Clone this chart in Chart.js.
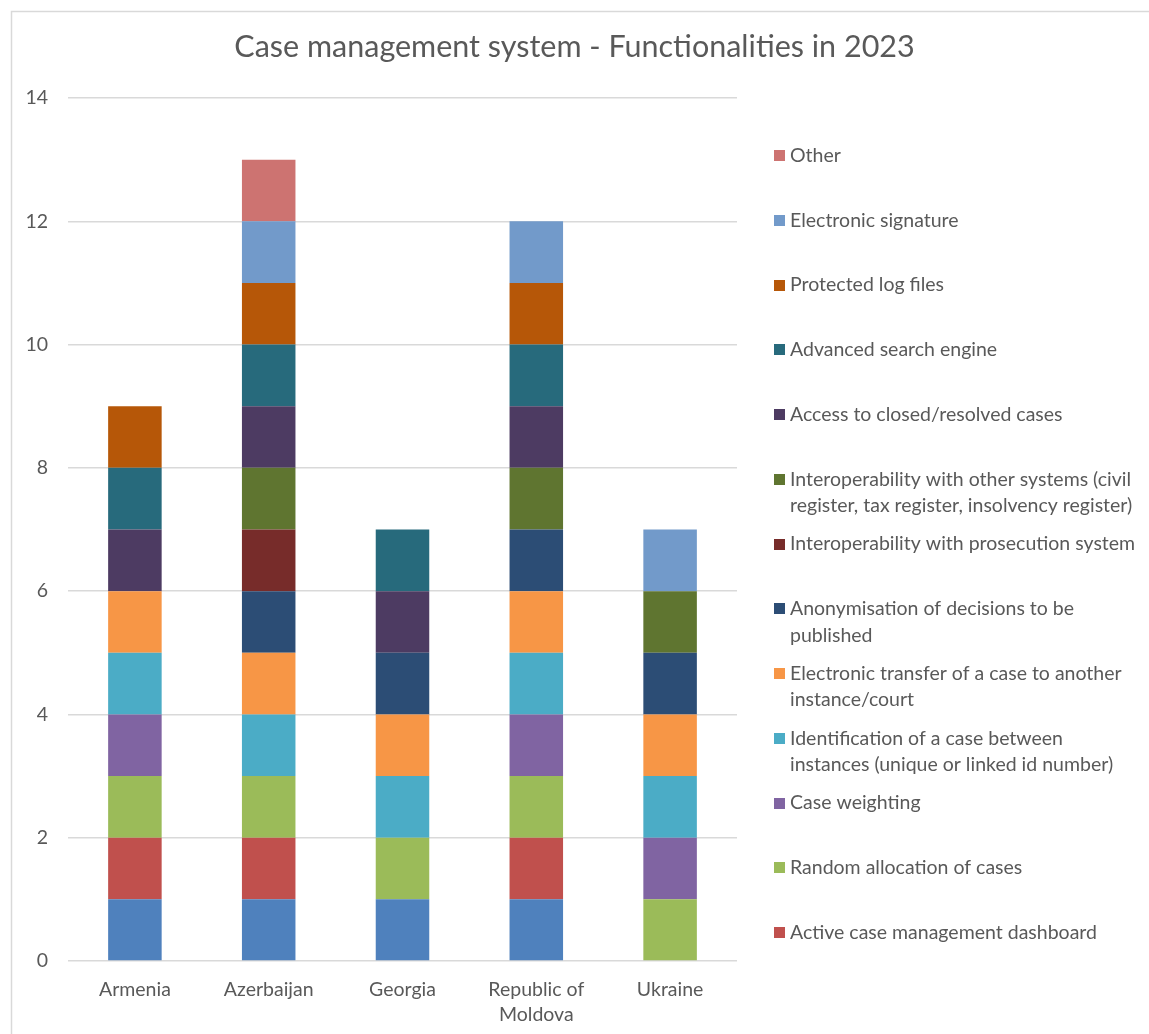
<!DOCTYPE html>
<html><head><meta charset="utf-8">
<script src="https://cdn.jsdelivr.net/npm/chart.js@4.4.1/dist/chart.umd.min.js"></script>
<style>
  html,body{margin:0;padding:0;background:#fff}
  #wrap{position:relative;width:1149px;height:1034px}
</style>
</head><body>
<div id="wrap"><canvas id="chart" width="1149" height="1034"></canvas></div>
<script>
// Countries on the category axis
const countries = ['Armenia', 'Azerbaijan', 'Georgia', ['Republic of', 'Moldova'], 'Ukraine'];

// Functionalities, stacked from the bottom up (legend line breaks kept as arrays)
const functionalities = [
  ['Case registration'],
  ['Active case management dashboard'],
  ['Random allocation of cases'],
  ['Case weighting'],
  ['Identification of a case between', 'instances (unique or linked id number)'],
  ['Electronic transfer of a case to another', 'instance/court'],
  ['Anonymisation of decisions to be', 'published'],
  ['Interoperability with prosecution system'],
  ['Interoperability with other systems (civil', 'register, tax register, insolvency register)'],
  ['Access to closed/resolved cases'],
  ['Advanced search engine'],
  ['Protected log files'],
  ['Electronic signature'],
  ['Other']
];

// 1 = functionality available in the country (Armenia, Azerbaijan, Georgia, Moldova, Ukraine)
const caseRegistration     = [1, 1, 1, 1, 0];
const activeDashboard      = [1, 1, 0, 1, 0];
const randomAllocation     = [1, 1, 1, 1, 1];
const caseWeighting        = [1, 0, 0, 1, 1];
const caseIdentification   = [1, 1, 1, 1, 1];
const electronicTransfer   = [1, 1, 1, 1, 1];
const anonymisation        = [0, 1, 1, 1, 1];
const prosecutionInterop   = [0, 1, 0, 0, 0];
const otherSystemsInterop  = [0, 1, 0, 1, 1];
const closedCasesAccess    = [1, 1, 1, 1, 0];
const advancedSearch       = [1, 1, 1, 1, 0];
const protectedLogs        = [1, 1, 0, 1, 0];
const electronicSignature  = [0, 1, 0, 1, 1];
const otherFunctionality   = [0, 1, 0, 0, 0];

const seriesValues = [
  caseRegistration, activeDashboard, randomAllocation, caseWeighting,
  caseIdentification, electronicTransfer, anonymisation, prosecutionInterop,
  otherSystemsInterop, closedCasesAccess, advancedSearch, protectedLogs,
  electronicSignature, otherFunctionality
];

const seriesColors = [
  '#4F81BD', '#C0504D', '#9BBB59', '#8064A2', '#4BACC6', '#F79646', '#2C4D75',
  '#772C2A', '#5F7530', '#4D3B62', '#276A7C', '#B65708', '#729ACA', '#CD7371'
];

const yTicks = { min: 0, max: 14, step: 2 };

const FONT = 'Lato';
const TEXT = '#595959';
const GRID = '#d9d9d9';

// Outer frame and white background
const framePlugin = {
  id: 'frame',
  beforeDraw(chart) {
    const ctx = chart.ctx;
    ctx.save();
    ctx.fillStyle = '#fff';
    ctx.fillRect(0, 0, chart.width, chart.height);
    ctx.strokeStyle = GRID;
    ctx.lineWidth = 1.5;
    ctx.beginPath();
    ctx.moveTo(11.5, chart.height);
    ctx.lineTo(11.5, 11.5);
    ctx.lineTo(chart.width, 11.5);
    ctx.stroke();
    ctx.restore();
  }
};

// Legend on the right: top entry first, evenly spaced rows, wrapped labels
const sideLegend = {
  id: 'sideLegend',
  afterDraw(chart, args, opts) {
    const ctx = chart.ctx;
    ctx.save();
    ctx.font = opts.fontSize + 'px ' + opts.fontFamily;
    ctx.textBaseline = 'middle';
    ctx.textAlign = 'left';
    const sets = chart.data.datasets;
    let row = 0;
    for (let i = sets.length - 1; i >= opts.firstShown; i--, row++) {
      const ds = sets[i];
      const y = opts.top + row * opts.rowStep;
      ctx.fillStyle = ds.backgroundColor;
      ctx.fillRect(opts.boxX, Math.round(y - opts.box / 2), opts.box, opts.box);
      ctx.fillStyle = opts.color;
      ds.legendLines.forEach((line, j) => {
        ctx.fillText(line, opts.textX, y + j * opts.lineStep);
      });
    }
    ctx.restore();
  }
};

const datasets = seriesValues.map((vals, i) => ({
  label: functionalities[i].join(' '),
  legendLines: functionalities[i],
  data: vals,
  backgroundColor: seriesColors[i],
  borderWidth: 0,
  categoryPercentage: 1,
  barPercentage: 0.4
}));

new Chart(document.getElementById('chart'), {
  type: 'bar',
  data: { labels: countries, datasets },
  plugins: [framePlugin, sideLegend],
  options: {
    responsive: false,
    animation: false,
    layout: { padding: 0 },
    plugins: {
      legend: { display: false },
      title: {
        display: true,
        text: 'Case management system - Functionalities in 2023',
        color: TEXT,
        font: { family: FONT, size: 30.5, weight: 'normal', lineHeight: 1.2 },
        padding: { top: 28.7, bottom: 32.7 }
      },
      sideLegend: {
        firstShown: 1,
        top: 155.5,
        rowStep: 64.75,
        lineStep: 26.5,
        box: 11,
        boxX: 774,
        textX: 790,
        fontSize: 19.5,
        fontFamily: FONT,
        color: TEXT
      },
      tooltip: { enabled: true }
    },
    scales: {
      x: {
        stacked: true,
        grid: { display: false, drawTicks: false },
        border: { display: false },
        ticks: {
          color: TEXT,
          padding: 16,
          font: { family: FONT, size: 19.5, lineHeight: 1.3 },
          maxRotation: 0,
          autoSkip: false
        },
        afterFit(scale) { scale.height = 73; }
      },
      y: {
        stacked: true,
        min: yTicks.min,
        max: yTicks.max,
        grid: { color: GRID, lineWidth: 1.5, drawTicks: false },
        border: { display: false },
        ticks: {
          stepSize: yTicks.step,
          color: TEXT,
          padding: 20,
          font: { family: FONT, size: 19.5 }
        },
        afterFit(scale) { scale.width = 68; }
      },
      // empty right-hand band reserved for the legend column
      legendBand: {
        type: 'linear',
        position: 'right',
        grid: { display: false, drawTicks: false },
        border: { display: false },
        ticks: { display: false },
        afterFit(scale) { scale.width = 412; }
      }
    }
  }
});
</script>
</body></html>
